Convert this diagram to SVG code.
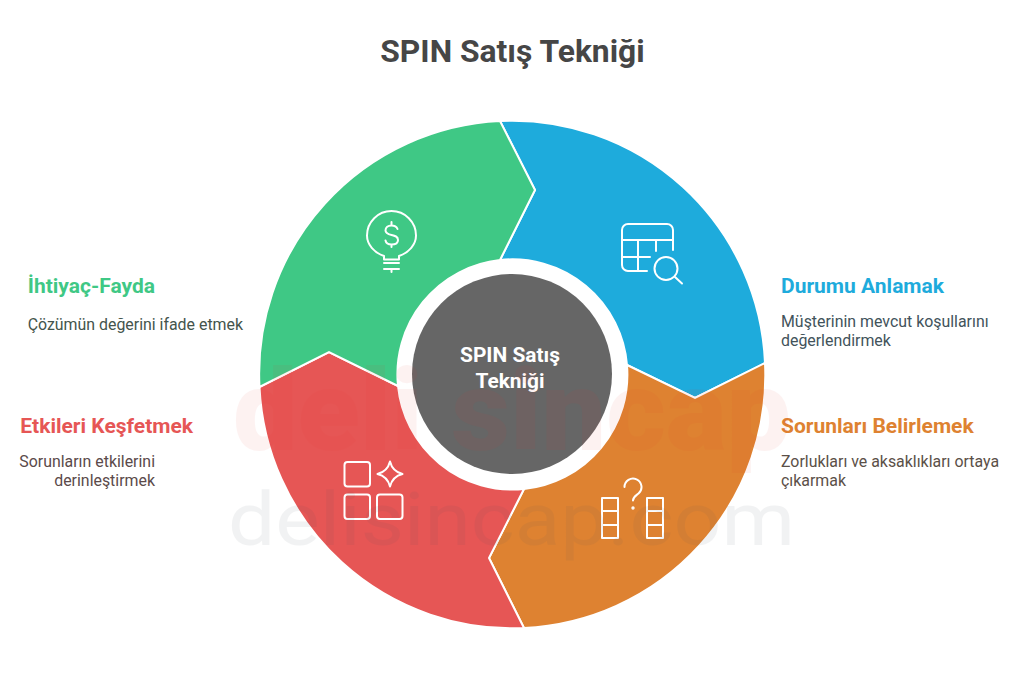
<svg xmlns="http://www.w3.org/2000/svg" width="1024" height="683" viewBox="0 0 1024 683">
<style>
text{font-family:Roboto,"Liberation Sans",sans-serif}
.seg{stroke:#fff;stroke-width:2}
.ic{fill:none;stroke:#fff;stroke-width:2;stroke-linecap:round;stroke-linejoin:round}
.h{font-size:21px;font-weight:700}
.d{font-size:15.9px}
</style>
<rect width="1024" height="683" fill="#fff"/>
<text x="512.500" y="62" text-anchor="middle" font-size="31.800" font-weight="700" fill="#464646">SPIN Satış Tekniği</text>
<g id="connectors"/>
<g id="node-durum">
<path class="seg" fill="#1eabdc" d="M500 121 A253 253 0 0 1 765 363 L695 398 L627 365 A115 115 0 0 0 500 260 L535 190 Z"/>
<g class="ic"><path d="M647 271H628a6 6 0 0 1-6-6V230a6 6 0 0 1 6-6H667a6 6 0 0 1 6 6V250M622 240H673M622 257H650M638 240V271M656 240V251"/><circle cx="666" cy="268.500" r="11.500"/><path d="M675 277L682 283.500"/></g>
<text class="h" x="781" y="293" fill="#1eabdc">Durumu Anlamak</text>
<text class="d" x="781" y="326.500" fill="#42535b">Müşterinin mevcut koşullarını</text>
<text class="d" x="781" y="345.500" fill="#42535b">değerlendirmek</text>
</g>
<g id="node-sorun">
<path class="seg" fill="#de8231" d="M765 363 A253 253 0 0 1 524 628 L489 558 L524 489 A115 115 0 0 0 627 365 L695 398 Z"/>
<g class="ic"><path d="M602 498H618V538H602ZM602 511H618M602 525H618M647 498H663V538H647ZM647 511H663M647 525H663M624.500 487a8.500 8.500 0 1 1 14 6.500c-3 2.500-5.500 3.500-5.500 7"/><circle cx="633" cy="508" r="0.700"/></g>
<text class="h" x="781" y="433" fill="#de8231">Sorunları Belirlemek</text>
<text class="d" x="781" y="466.500" fill="#5b5048">Zorlukları ve aksaklıkları ortaya</text>
<text class="d" x="781" y="485.500" fill="#5b5048">çıkarmak</text>
</g>
<g id="node-etki">
<path class="seg" fill="#e65655" d="M524 628 A253 253 0 0 1 259.500 387 L329 352 L398 386 A115 115 0 0 0 524 489 L489 558 Z"/>
<g class="ic"><rect x="344.500" y="462" width="25.500" height="24.500" rx="3"/><rect x="344.500" y="494.500" width="25.500" height="24.500" rx="3"/><rect x="377" y="494.500" width="25.500" height="24.500" rx="3"/><path d="M390 461.500Q392.500 471.500 402.500 474Q392.500 476.500 390 486.500Q387.500 476.500 377.500 474Q387.500 471.500 390 461.500Z"/></g>
<text class="h" x="193" y="433" text-anchor="end" fill="#e65655">Etkileri Keşfetmek</text>
<text class="d" x="155" y="466.500" text-anchor="end" fill="#5b4a4a">Sorunların etkilerini</text>
<text class="d" x="155" y="485.500" text-anchor="end" fill="#5b4a4a">derinleştirmek</text>
</g>
<g id="node-fayda">
<path class="seg" fill="#3fc885" d="M259.500 387 A253 253 0 0 1 500 121 L535 190 L500 260 A115 115 0 0 0 398 386 L329 352 Z"/>
<g class="ic"><path d="M384 259.500V256C374 252.500 367 244.500 367 235.500A24.500 24.500 0 0 1 416 235.500C416 244.500 409 252.500 399 256V259.500ZM384 263H399M384 269H399M391.500 269V272M397.500 229C396.500 226.500 394.500 225.500 391.500 225.500C388 225.500 385.500 227.500 385.500 230.500C385.500 237 398 233 398 240C398 243 395 244.500 391.500 244.500C388.500 244.500 386 243 385.500 240.500M391.500 222V225.500M391.500 244.500V247"/></g>
<text class="h" x="155" y="293" text-anchor="end" fill="#3fc885">İhtiyaç-Fayda</text>
<text class="d" x="243" y="329.500" text-anchor="end" fill="#44544c">Çözümün değerini ifade etmek</text>
</g>
<g id="node-center">
<circle cx="512" cy="374" r="100" fill="#666"/>
<text x="510" y="362" text-anchor="middle" font-size="20.900" font-weight="700" fill="#fff">SPIN Satış</text>
<text x="510" y="388" text-anchor="middle" font-size="20.900" font-weight="700" fill="#fff">Tekniği</text>
</g>
<g id="watermark">
<text x="233" y="450" font-size="113" font-weight="900" fill="#e8342a" opacity="0.06" textLength="558" lengthAdjust="spacingAndGlyphs">deli sincap</text>
<text x="228" y="545" font-size="74" font-weight="400" fill="#4a5560" opacity="0.07" textLength="567" lengthAdjust="spacingAndGlyphs">delisincap.com</text>
</g>
</svg>
